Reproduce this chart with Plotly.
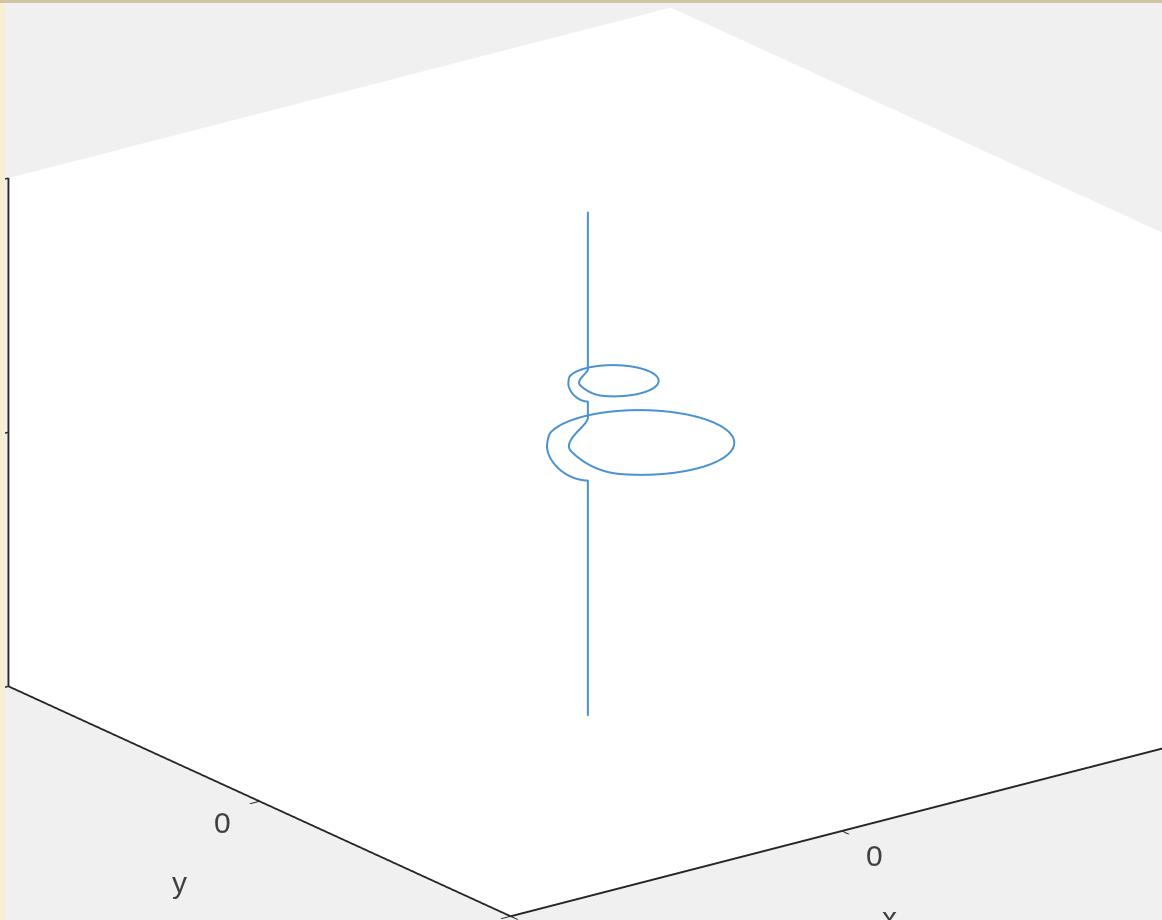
import numpy as np
import plotly.graph_objects as go

# Axis extents and ticks
x_range = [-1.0, 1.0]
y_range = [-1.0, 1.0]
z_range = [-1.0, 1.0]
tick_vals = [-1, 0, 1]
tick_text = ["-1", "0", "1"]
# only the ticks that fall inside the window get a label
label_ticks = [0]
axis_titles = {"x": "x", "y": "y"}

# Vertical stem
stem_x = -0.005
stem_y = 0.005
stem_z_top = 0.984
stem_z_bottom = -1.0

# Horizontal loops on the stem (upper, lower)
loop_center_x = [0.061, 0.125]
loop_center_y = [-0.021, -0.044]
loop_radius = [0.109, 0.226]
loop_z_enter = [0.368, 0.181]
loop_z_level = [0.308, 0.054]
loop_z_exit = [0.237, -0.074]

# Angular spans (degrees) over which each loop leaves / rejoins the stem
ramp_in_rho, ramp_in_z = 25.0, 60.0
ramp_out_rho, ramp_out_z = 25.0, 35.0

LINE_COLOR = "#4a93d0"
AXIS_COLOR = "#262626"
TEXT_COLOR = "#404040"
FONT = "Liberation Sans, Arial, sans-serif"


def loop_path(cx, cy, radius, z_enter, z_level, z_exit, n=360):
    """Loop that leaves the stem, runs once round the circle and returns."""
    r0 = np.hypot(cx, cy)
    phi0 = np.arctan2(-cy, -cx)
    phi = np.linspace(phi0, phi0 + 2 * np.pi, n)
    a_in = phi - phi0
    a_out = phi0 + 2 * np.pi - phi
    u_rin = np.clip(a_in / np.radians(ramp_in_rho), 0, 1)
    u_zin = np.clip(a_in / np.radians(ramp_in_z), 0, 1)
    u_rout = np.clip(a_out / np.radians(ramp_out_rho), 0, 1)
    u_zout = np.clip(a_out / np.radians(ramp_out_z), 0, 1)
    # radius: eases out of the stem, snaps back into it
    g_in = np.sin(0.5 * np.pi * u_rin) ** 2
    g_out = np.sin(0.5 * np.pi * u_rout)
    rho = r0 + (radius - r0) * g_in * g_out
    # height: drops on the way out, settles before rejoining
    w_in = 1 - np.sin(0.5 * np.pi * u_zin)
    w_out = np.cos(0.5 * np.pi * u_zout) ** 2
    px = cx + rho * np.cos(phi)
    py = cy + rho * np.sin(phi)
    pz = z_level + (z_enter - z_level) * w_in + (z_exit - z_level) * w_out
    return px, py, pz


xs = [np.array([0.0])]
ys = [np.array([0.0])]
zs = [np.array([stem_z_top])]
for i in range(len(loop_radius)):
    px, py, pz = loop_path(loop_center_x[i], loop_center_y[i], loop_radius[i],
                           loop_z_enter[i], loop_z_level[i], loop_z_exit[i])
    xs.append(px)
    ys.append(py)
    zs.append(pz)
xs.append(np.array([0.0]))
ys.append(np.array([0.0]))
zs.append(np.array([stem_z_bottom]))

fig = go.Figure(go.Scatter3d(
    x=np.concatenate(xs) + stem_x, y=np.concatenate(ys) + stem_y, z=np.concatenate(zs),
    mode="lines", line=dict(color=LINE_COLOR, width=4),
    hoverinfo="skip", showlegend=False,
))


def axis(rng):
    return dict(
        title=dict(text=""),
        range=rng, autorange=False,
        tickvals=tick_vals, ticktext=tick_text, showticklabels=False,
        ticks="outside", ticklen=12, tickwidth=3, tickcolor=AXIS_COLOR,
        showline=True, linecolor=AXIS_COLOR, linewidth=4,
        showgrid=False, zeroline=False, showspikes=False,
        showbackground=True, backgroundcolor="white",
    )


# Upright tick labels and axis titles placed next to the front floor edges
label_font = dict(family=FONT, size=30, color=TEXT_COLOR)
annotations = []
for v in label_ticks:
    txt = tick_text[tick_vals.index(v)]
    annotations.append(dict(x=v, y=y_range[0], z=z_range[0], text=txt, showarrow=False,
                            xshift=33, yshift=-24, font=label_font))
    annotations.append(dict(x=x_range[0], y=v, z=z_range[0], text=txt, showarrow=False,
                            xshift=-37, yshift=-21, font=label_font))
annotations.append(dict(x=0, y=y_range[0], z=z_range[0], text=axis_titles["x"],
                        showarrow=False, xshift=48, yshift=-86, font=label_font))
annotations.append(dict(x=x_range[0], y=0, z=z_range[0], text=axis_titles["y"],
                        showarrow=False, xshift=-80, yshift=-81, font=label_font))

# Orthographic camera looking from the -x, -y, +z side
eye_dir = np.array([-0.578, -0.739, 0.347])
eye_dist = 1.111
eye = eye_dir / np.linalg.norm(eye_dir) * eye_dist
look_at = dict(x=-0.0159, y=0.0142, z=0.0038)
box_scale = 1.80

fig.update_layout(
    width=1162, height=920,
    margin=dict(l=0, r=0, t=0, b=0),
    paper_bgcolor="#f0f0f0",
    scene=dict(
        domain=dict(x=[0, 1], y=[0, 1]),
        bgcolor="#f0f0f0",
        xaxis=axis(x_range),
        yaxis=axis(y_range),
        zaxis=axis(z_range),
        aspectmode="manual",
        aspectratio=dict(x=1.0 * box_scale, y=1.011 * box_scale, z=0.6535 * box_scale),
        camera=dict(
            eye=dict(x=eye[0], y=eye[1], z=eye[2]),
            up=dict(x=0, y=0, z=1),
            center=look_at,
            projection=dict(type="orthographic"),
        ),
        annotations=annotations,
    ),
    shapes=[
        dict(type="rect", xref="paper", yref="paper", x0=0, x1=5 / 1162, y0=0, y1=1,
             fillcolor="#f8eed3", line=dict(width=0), layer="above"),
        dict(type="rect", xref="paper", yref="paper", x0=0, x1=1, y0=1 - 3 / 920, y1=1,
             fillcolor="#d2c4a0", line=dict(width=0), layer="above"),
    ],
)

fig.write_html("out.html")
